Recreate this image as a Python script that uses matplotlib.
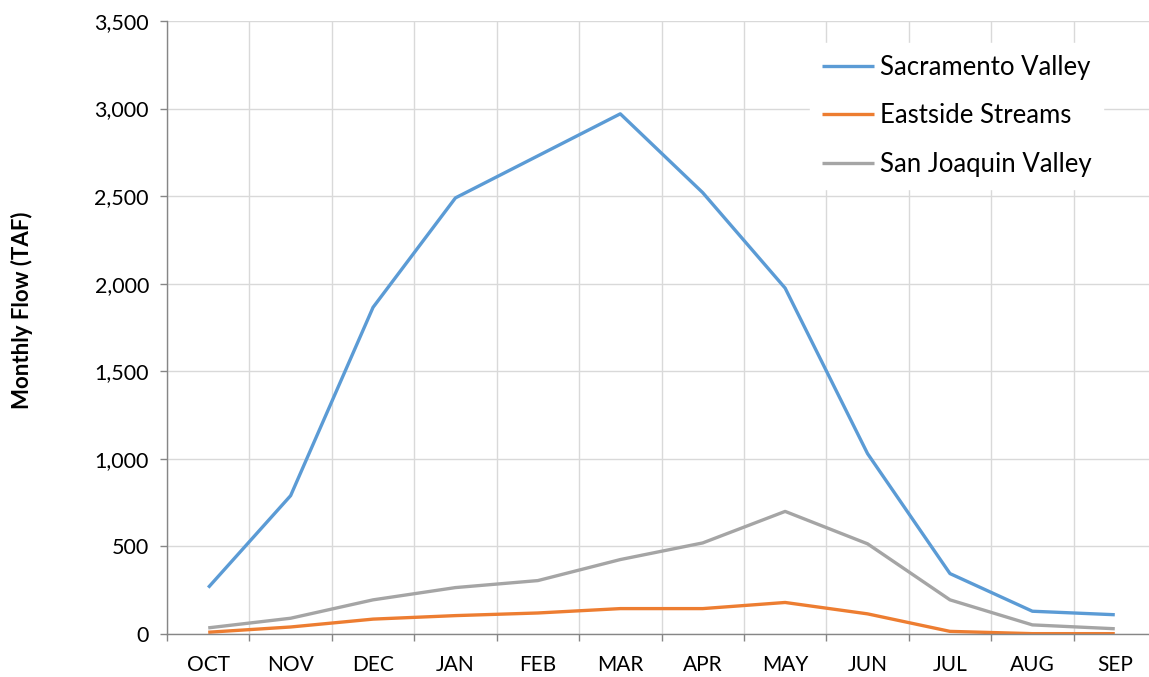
import numpy as np
import matplotlib
matplotlib.use("Agg")
import matplotlib.pyplot as plt

plt.rcParams['font.family'] = ['Lato', 'DejaVu Sans']

months = ['OCT', 'NOV', 'DEC', 'JAN', 'FEB', 'MAR', 'APR', 'MAY', 'JUN', 'JUL', 'AUG', 'SEP']
sacramento = [265, 790, 1865, 2490, 2730, 2970, 2520, 1975, 1030, 345, 130, 110]
eastside = [10, 40, 85, 105, 120, 145, 145, 180, 115, 15, 2, 2]
san_joaquin = [35, 90, 195, 265, 305, 425, 520, 700, 515, 195, 52, 30]

series_names = ['Sacramento Valley', 'Eastside Streams', 'San Joaquin Valley']
colors = ['#5B9BD5', '#ED7D31', '#A5A5A5']

W, H = 1149, 677
fig = plt.figure(figsize=(W / 100, H / 100), dpi=100)
ax = fig.add_axes([167 / W, 43 / H, (1156 - 167) / W, 613 / H])

x = np.arange(len(months))
for vals, name, c in zip([sacramento, eastside, san_joaquin], series_names, colors):
    ax.plot(x, vals, color=c, lw=2.4, label=name, solid_capstyle='butt')

ax.set_xlim(-0.5, len(months) - 0.5)
ax.set_ylim(0, 3500)
ax.set_yticks(np.arange(0, 3501, 500))
ax.set_yticklabels([f'{v:,}' for v in range(0, 3501, 500)])
ax.set_xticks(x)
ax.set_xticklabels(months)
ax.set_xticks(np.arange(-0.5, len(months), 1), minor=True)

ax.tick_params(axis='x', which='major', length=0, pad=15, labelsize=15)
ax.tick_params(axis='x', which='minor', length=5, color='#868686', width=1)
ax.tick_params(axis='y', length=5, color='#868686', width=1, labelsize=15.5, pad=8)

ax.grid(True, axis='y', which='major', color='#D9D9D9', lw=1)
ax.grid(True, axis='x', which='minor', color='#D9D9D9', lw=1)
ax.set_axisbelow(True)

for s in ['top', 'right']:
    ax.spines[s].set_visible(False)
for s in ['left', 'bottom']:
    ax.spines[s].set_color('#868686')
    ax.spines[s].set_linewidth(1)

fig.text(22 / W, 1 - 310 / H, 'Monthly Flow (TAF)', rotation=90, ha='center', va='center',
         fontsize=16, fontweight='bold')

leg = fig.legend(loc='upper left', bbox_to_anchor=(810 / W, 1 - 43 / H),
                 bbox_transform=fig.transFigure, borderaxespad=0,
                 frameon=True, fontsize=18.5, handlelength=2.05, handletextpad=0.22,
                 labelspacing=0.93, borderpad=0.45, fancybox=False)
leg.get_frame().set_edgecolor('white')
leg.get_frame().set_facecolor('white')
leg.get_frame().set_alpha(1)

fig.savefig('out.png', dpi=100)
